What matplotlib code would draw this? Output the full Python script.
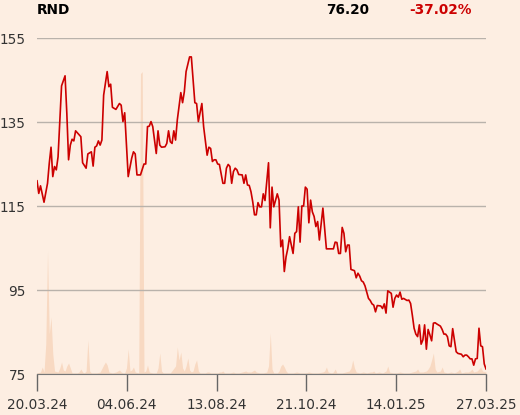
import numpy as np
import matplotlib
matplotlib.use("Agg")
import matplotlib.pyplot as plt

################################################
## DATA
################################################
ticker = "RND"
last_price = "76.20"
change = "-37.02%"

tick_labels = ["20.03.24", "04.06.24", "13.08.24", "21.10.24", "14.01.25", "27.03.25"]
n_days = 256  # trading days from first to last tick

price_days = [
    0, 1, 2, 4, 6, 7, 8, 9, 10, 11, 12, 14, 16, 17, 18, 19, 20, 21, 22, 25,
    26, 28, 29, 31, 32, 33, 34, 35, 36, 37, 38, 40, 41, 42, 43, 45, 47, 48, 49, 50,
    52, 54, 55, 56, 57, 59, 61, 62, 63, 64, 65, 66, 68, 69, 70, 71, 73, 74, 75, 76,
    77, 78, 79, 80, 82, 83, 84, 85, 87, 88, 90, 91, 92, 94, 95, 97, 98, 99, 100, 101,
    102, 103, 104, 106, 107, 108, 109, 110, 111, 112, 113, 114, 115, 117, 118, 119, 120, 121, 122, 123,
    124, 125, 126, 127, 128, 129, 130, 132, 133, 134, 135, 136, 137, 138, 139, 140, 141, 142, 143, 144,
    146, 147, 148, 149, 150, 151, 152, 153, 154, 155, 156, 157, 158, 159, 160, 161, 163, 165, 167, 169,
    170, 171, 172, 173, 174, 175, 176, 177, 178, 179, 181, 182, 183, 184, 185, 186, 187, 189, 190, 191,
    192, 193, 194, 196, 197, 198, 199, 200, 201, 202, 203, 204, 205, 206, 207, 208, 209, 211, 212, 213,
    214, 215, 216, 217, 218, 219, 220, 221, 222, 223, 224, 225, 226, 227, 228, 230, 231, 232, 233, 234,
    235, 236, 237, 238, 239, 240, 242, 243, 244, 245, 246, 247, 248, 249, 250, 251, 252, 253, 254, 255,
    256,
]
price = [
    121.0, 118.0, 119.8, 115.9, 120.4, 125.2, 129.0, 122.0, 124.4, 123.6, 126.7, 143.6, 146.0, 137.1, 126.0, 129.5, 130.9, 130.5, 132.9, 131.5,
    125.3, 124.0, 127.4, 127.9, 124.5, 129.0, 129.3, 130.5, 129.5, 130.7, 141.4, 147.0, 143.4, 144.0, 138.5, 138.0, 139.4, 139.0, 135.1, 137.2,
    122.0, 126.4, 127.9, 127.4, 122.4, 122.4, 125.0, 125.0, 133.9, 134.0, 135.1, 133.9, 127.5, 132.9, 129.5, 129.0, 129.1, 129.9, 132.9, 130.3,
    129.9, 132.9, 130.7, 135.5, 142.0, 139.6, 142.2, 147.0, 150.5, 150.5, 139.6, 139.4, 135.1, 139.4, 133.9, 127.1, 129.0, 128.7, 125.6, 126.0,
    126.0, 125.0, 124.9, 120.4, 120.4, 124.0, 124.9, 124.4, 120.4, 123.2, 124.0, 123.6, 122.5, 122.4, 120.4, 122.4, 120.0, 119.9, 118.4, 116.0,
    112.9, 112.9, 115.8, 114.8, 114.8, 117.9, 116.3, 125.3, 109.8, 119.5, 114.8, 116.4, 117.9, 116.4, 105.3, 106.9, 99.4, 102.9, 104.9, 107.7,
    103.7, 108.5, 108.9, 114.8, 106.4, 115.0, 115.0, 119.5, 119.0, 111.0, 116.4, 113.6, 112.5, 110.1, 111.3, 106.9, 114.5, 104.8, 104.8, 104.8,
    106.4, 106.3, 103.7, 103.7, 109.9, 108.5, 104.1, 105.7, 105.7, 99.9, 99.6, 97.9, 99.0, 98.3, 97.2, 96.9, 96.0, 93.0, 92.5, 91.7,
    91.4, 89.8, 91.3, 91.2, 90.6, 91.7, 89.5, 94.8, 94.5, 94.2, 90.9, 93.0, 93.8, 93.3, 94.5, 92.8, 93.0, 92.5, 92.6, 91.8,
    89.0, 85.9, 84.5, 83.9, 86.7, 82.1, 83.1, 86.7, 80.9, 85.6, 84.3, 82.9, 87.1, 87.2, 86.9, 86.4, 85.6, 84.5, 84.5, 83.9,
    81.7, 81.5, 85.8, 83.1, 80.3, 79.9, 79.7, 79.1, 79.5, 79.5, 79.1, 78.6, 78.6, 77.1, 78.6, 78.7, 85.9, 81.7, 81.5, 77.4,
    76.2,
]

vol_days = [
    0, 2, 3, 4, 5, 6, 7, 8, 9, 10, 12, 13, 14, 15, 16, 17, 18, 19, 20, 23,
    24, 25, 26, 27, 28, 29, 30, 31, 34, 36, 38, 39, 40, 41, 43, 45, 46, 47, 48, 49,
    50, 51, 52, 53, 54, 55, 56, 58, 59, 60, 61, 62, 63, 64, 66, 68, 69, 70, 71, 72, 74,
    76, 79, 80, 81, 82, 83, 84, 85, 86, 87, 88, 89, 90, 91, 92, 93, 96, 97, 98, 99,
    103, 104, 105, 106, 107, 110, 112, 113, 115, 117, 119, 120, 122, 123, 124, 125, 127, 129, 131, 132,
    133, 134, 135, 137, 138, 139, 140, 141, 142, 143, 146, 148, 150, 153, 155, 157, 160, 163, 164, 165,
    166, 168, 169, 170, 171, 174, 176, 178, 179, 180, 181, 182, 184, 186, 188, 190, 191, 192, 193, 195,
    197, 199, 200, 201, 203, 205, 207, 209, 212, 214, 216, 217, 218, 220, 222, 223, 224, 225, 226, 227,
    228, 230, 231, 232, 234, 236, 238, 240, 241, 242, 244, 246, 247, 248, 249, 251, 252, 253, 254, 256,
]
volume = [
    1, 2, 7, 2, 30, 123, 40, 57, 20, 3, 2, 6, 12, 4, 3, 8, 11, 6, 1, 1,
    2, 5, 2, 1, 3, 34, 3, 1, 1, 2, 9, 12, 9, 2, 1, 2, 3, 4, 2, 1,
    1, 6, 25, 3, 4, 7, 2, 1, 300, 302, 2, 3, 9, 2, 1, 1, 6, 21, 3, 1, 1,
    1, 8, 27, 14, 22, 6, 3, 8, 16, 4, 2, 3, 10, 14, 3, 1, 1, 2, 2, 1,
    1, 2, 2, 3, 1, 1, 2, 1, 1, 2, 3, 2, 2, 3, 4, 2, 1, 1, 2, 8,
    41, 5, 1, 1, 3, 8, 10, 7, 3, 1, 1, 2, 1, 1, 2, 1, 1, 2, 3, 7,
    2, 1, 2, 5, 1, 1, 2, 3, 6, 14, 6, 2, 1, 2, 1, 2, 2, 3, 1, 2,
    1, 3, 8, 2, 1, 1, 2, 1, 1, 2, 3, 5, 2, 2, 3, 5, 8, 14, 21, 5,
    2, 3, 7, 2, 1, 2, 1, 3, 5, 1, 2, 2, 3, 5, 2, 3, 5, 7, 3, 2,
]

################################################
## PLOT
################################################
bg = "#fdeee2"
red = "#cc0000"
fs = 9.8

fig = plt.figure(figsize=(5.2, 4.15), dpi=100, facecolor=bg)
ax = fig.add_axes([37 / 520, 41 / 415, 449 / 520, 336 / 415])
vax = ax.twinx()
ax.set_zorder(vax.get_zorder() + 1)
ax.patch.set_visible(False)
vax.set_facecolor(bg)

vax.fill_between(vol_days, 0, volume, color="#f8d9c2", lw=0)
vax.set_ylim(0, max(volume) / 0.9)
vax.set_yticks([])
for s in vax.spines.values():
    s.set_visible(False)

ax.plot(price_days, price, color=red, lw=1.2)

ax.set_xlim(0, n_days)
ax.set_ylim(75, 155)
ax.set_yticks([75, 95, 115, 135, 155])
ax.grid(axis="y", color="#b9b2ab", lw=1)
ax.set_axisbelow(True)
ax.set_xticks(np.linspace(0, n_days, len(tick_labels)))
ax.set_xticklabels(tick_labels)
ax.tick_params(axis="x", length=12, width=1, color="#666666", pad=5,
               labelsize=fs, labelcolor="#333333")
ax.tick_params(axis="y", length=0, pad=8, labelsize=fs, labelcolor="#333333")
for k in ["top", "right", "left"]:
    ax.spines[k].set_visible(False)
ax.spines["bottom"].set_color("#777777")

fig.text(37 / 520, 1 - 10 / 415, ticker, fontsize=fs, fontweight="bold", va="center")
fig.text(369 / 520, 1 - 10 / 415, last_price, fontsize=fs, fontweight="bold",
         va="center", ha="right")
fig.text(472 / 520, 1 - 10 / 415, change, fontsize=fs, fontweight="bold",
         va="center", ha="right", color=red)

fig.savefig("out.png", dpi=100, facecolor=bg)
